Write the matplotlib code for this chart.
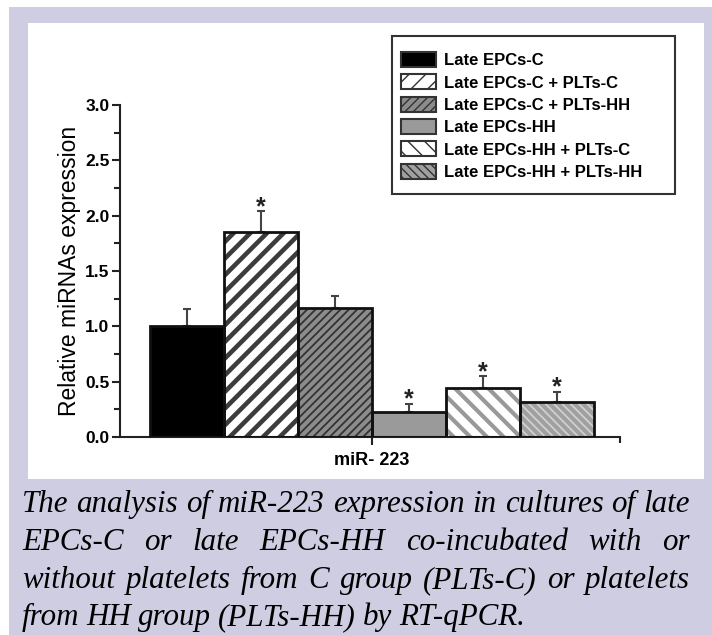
import matplotlib
matplotlib.use("Agg")
import matplotlib.pyplot as plt
from matplotlib.patches import Rectangle
from matplotlib.ticker import MultipleLocator, FixedLocator
import numpy as np

# ---------------- data ----------------
groups = ["Late EPCs-C", "Late EPCs-C + PLTs-C", "Late EPCs-C + PLTs-HH",
          "Late EPCs-HH", "Late EPCs-HH + PLTs-C", "Late EPCs-HH + PLTs-HH"]
values = [1.00, 1.85, 1.17, 0.23, 0.44, 0.32]
errors = [0.16, 0.19, 0.10, 0.07, 0.11, 0.09]
significant = [False, True, False, True, True, True]
category = "miR- 223"
ylabel = "Relative miRNAs expression"
caption_lines = [
    "The analysis of miR-223 expression in cultures of late",
    "EPCs-C or late EPCs-HH co-incubated with or",
    "without platelets from C group (PLTs-C) or platelets",
    "from HH group (PLTs-HH) by RT-qPCR.",
]

# ---------------- styles ----------------
faces = ["#000000", "#ffffff", "#8c8c8c", "#9a9a9a", "#ffffff", "#a0a0a0"]
hatches = [None, "//", "////", None, "\\\\", "\\\\\\\\"]
hatch_cols = [None, "#3c3c3c", "#333333", None, "#999999", "#d0d0d0"]
hatch_lws = [0, 3.3, 1.3, 0, 3.0, 1.3]

W, H = 712, 635
fig = plt.figure(figsize=(W / 100, H / 100), dpi=100)
fig.patch.set_facecolor("white")

def fx(px):
    return px / W

def fy(py):
    return 1 - py / H

# lavender background and white panel
fig.patches.append(Rectangle((fx(9), 0), 1 - fx(9), fy(7),
                             transform=fig.transFigure, facecolor="#cfcde2", edgecolor="none", zorder=-10))
fig.patches.append(Rectangle((fx(28), fy(479)), fx(704 - 28), fy(23) - fy(479),
                             transform=fig.transFigure, facecolor="white", edgecolor="none", zorder=-9))

ax = fig.add_axes([fx(120), fy(437), fx(620 - 120), fy(105) - fy(437)])
ax.set_facecolor("none")

x = np.arange(len(values))
for i in range(len(values)):
    b = ax.bar(x[i], values[i], width=1.0, color=faces[i], edgecolor=hatch_cols[i] or "none",
               linewidth=0, hatch=hatches[i], zorder=2)
    if hatches[i]:
        b[0].set_hatch_linewidth(hatch_lws[i])
    ax.bar(x[i], values[i], width=1.0, fill=False, edgecolor="#111111", linewidth=2.0, zorder=3)
    ax.errorbar(x[i], values[i], yerr=[[0], [errors[i]]], fmt="none", ecolor="#444444",
                elinewidth=1.5, capsize=3, capthick=1.5, zorder=1)
    if significant[i]:
        ax.text(x[i], values[i] + errors[i] - 0.07, "*", ha="center", va="bottom",
                fontsize=18, fontweight="bold", family="Liberation Sans", color="#222222")

ax.set_xlim(-0.905, 5.85)
ax.set_ylim(0, 3.0)
for s in ["top", "right"]:
    ax.spines[s].set_visible(False)
for s in ["left", "bottom"]:
    ax.spines[s].set_linewidth(1.5)
    ax.spines[s].set_color("#222222")

ax.yaxis.set_major_locator(MultipleLocator(0.5))
ax.yaxis.set_minor_locator(MultipleLocator(0.25))
ax.set_yticklabels([f"{v:.1f}" for v in ax.get_yticks()])
ax.tick_params(axis="y", which="major", length=6, width=1.5, direction="out", color="#222222",
               labelsize=12.5, pad=1.5)
ax.tick_params(axis="y", which="minor", length=4, width=1.5, direction="out", color="#222222")
ax.set_xticks([2.5])
ax.set_xticklabels([category])
ax.xaxis.set_minor_locator(FixedLocator([5.85]))
ax.tick_params(axis="x", which="major", length=6, width=1.5, color="#222222", labelsize=13, pad=5)
ax.tick_params(axis="x", which="minor", length=4, width=1.5, color="#222222")
for lab in ax.get_yticklabels() + ax.get_xticklabels():
    lab.set_fontweight("bold")
    lab.set_family("Liberation Sans")

fig.text(fx(70), fy(271), ylabel, rotation=90, ha="center", va="center",
         fontsize=16.5, family="Liberation Sans")

# legend
handles = []
for i in range(len(values)):
    h = Rectangle((0, 0), 1, 1, facecolor=faces[i], edgecolor=hatch_cols[i] or "#111111",
                  hatch=hatches[i], linewidth=1.5)
    if hatches[i]:
        h.set_hatch_linewidth(min(hatch_lws[i], 2.2))
    handles.append(h)
leg = fig.legend(handles, groups, loc="upper left", bbox_to_anchor=(fx(401), fy(52)),
                 bbox_transform=fig.transFigure, frameon=False,
                 prop={"family": "Liberation Sans", "weight": "bold", "size": 12},
                 handlelength=2.1, handleheight=1.0, labelspacing=0.37, handletextpad=0.48,
                 borderpad=0, borderaxespad=0)
for p in leg.get_patches():
    p.set_edgecolor("#333333")
fig.patches.append(Rectangle((fx(392), fy(194)), fx(675 - 392), fy(36) - fy(194),
                             transform=fig.transFigure, facecolor="white", edgecolor="#333333",
                             linewidth=1.5, zorder=-5))

# caption with justified lines
renderer = fig.canvas.get_renderer()
left_px, right_px = 22, 690
baselines = [512, 550, 588, 625]
cap_kw = dict(family="Liberation Serif", style="italic", fontsize=22.3, color="#000000",
              va="baseline", ha="left")
for li, line in enumerate(caption_lines):
    words = line.split(" ")
    texts = [fig.text(0, fy(baselines[li]), w, **cap_kw) for w in words]
    widths = [t.get_window_extent(renderer).width for t in texts]
    total = sum(widths)
    if li < len(caption_lines) - 1 and len(words) > 1:
        gap = (right_px - left_px - total) / (len(words) - 1)
    else:
        gap = 7.0
    pos = left_px
    for t, w in zip(texts, widths):
        t.set_x(fx(pos))
        pos += w + gap

fig.savefig("out.png", dpi=100)
